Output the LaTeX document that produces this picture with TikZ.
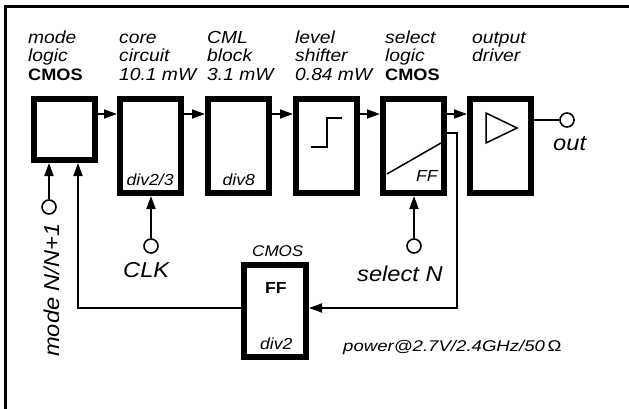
\documentclass[tikz,border=0pt]{standalone}
\usepackage{fontspec}
\setmainfont{Liberation Sans}
\newfontfamily\dfont[FakeStretch=1.1]{Liberation Sans}
\newfontfamily\pfont[FakeStretch=1.2]{Liberation Sans}
\usetikzlibrary{arrows.meta}
\begin{document}
\begin{tikzpicture}[x=1pt,y=-1pt,
  blk/.style={draw, line width=6pt, minimum width=61pt, minimum height=94pt, inner sep=0pt},
  wire/.style={line width=1.8pt},
  thin/.style={line width=1.5pt},
  arr/.style={wire, -{Triangle[length=13pt,width=9pt]}},
  term/.style={circle, draw, line width=1.6pt, minimum size=14pt, inner sep=0pt, fill=white},
  hd/.style={anchor=base west, inner sep=0pt, font=\dfont\itshape\fontsize{17.5}{18}\selectfont},
  hdb/.style={anchor=base west, inner sep=0pt, font=\dfont\bfseries\fontsize{16.5}{18}\selectfont},
  lbl/.style={anchor=base west, inner sep=0pt, font=\dfont\itshape\fontsize{21.5}{24}\selectfont},
  sm/.style={anchor=base west, inner sep=0pt, font=\dfont\itshape\fontsize{16}{18}\selectfont},
]
\useasboundingbox (0,0) rectangle (629,409);
\fill[white] (0,0) rectangle (629,409);
% frame
\draw[line width=3pt] (5.5,409) -- (5.5,6.5) -- (629,6.5);

% blocks
\node[blk, minimum height=61pt] (b1) at (64,129.5) {};
\node[blk] (b2) at (150.5,146) {};
\node[blk] (b3) at (238.5,146) {};
\node[blk] (b4) at (326.5,146) {};
\node[blk] (b5) at (413.5,146) {};
\node[blk] (b6) at (500.5,146) {};
\node[blk, minimum width=62pt, minimum height=92pt] (d) at (275,311) {};

% forward arrows
\draw[arr] (b1.east |- 0,114) -- (b2.west |- 0,114);
\draw[arr] (b2.east |- 0,114) -- (b3.west |- 0,114);
\draw[arr] (b3.east |- 0,114) -- (b4.west |- 0,114);
\draw[arr] (b4.east |- 0,114) -- (b5.west |- 0,114);
\draw[arr] (b5.east |- 0,114) -- (b6.west |- 0,114);

% symbols in blocks
\draw[thin] (311,147) -- (327,147) -- (327,118) -- (342,118);
\draw[thin] (387,174) -- (441,143);
\draw[thin] (486,113) -- (486,143) -- (517,128) -- cycle;

% terminals
\node[term] (m) at (49,207) {};
\draw[arr] (m) -- (m |- b1.south);
\node[term] (c) at (151,246) {};
\draw[arr] (c) -- (c |- b2.south);
\node[term] (s) at (414,246) {};
\draw[arr] (s) -- (s |- b5.south);
\node[term] (o) at (567,120) {};
\draw[wire] (b6.east |- o) -- (o);

% feedback
\coordinate (f1) at (457,133);
\coordinate (f2) at (457,308);
\coordinate (f3) at (78,308);
\draw[arr] (b5.east |- f1) -- (f1) -- (f2) -- (d.east |- f2);
\draw[arr] (d.west |- f3) -- (f3) -- (f3 |- b1.south);

% headers
\node[hd] (h1a) at (28,44) {mode};
\node[hd] (h1b) at (28,62) {logic};
\node[hdb] (h1c) at (28,80.5) {CMOS};
\node[hd] (h2a) at (119,44) {core};
\node[hd] (h2b) at (119,62) {circuit};
\node[hd] (h2c) at (119,80.5) {10.1 mW};
\node[hd] (h3a) at (207,44) {CML};
\node[hd] (h3b) at (207,62) {block};
\node[hd] (h3c) at (207,80.5) {3.1 mW};
\node[hd] (h4a) at (295,44) {level};
\node[hd] (h4b) at (295,62) {shifter};
\node[hd] (h4c) at (295,80.5) {0.84 mW};
\node[hd] (h5a) at (385,44) {select};
\node[hd] (h5b) at (385,62) {logic};
\node[hdb] (h5c) at (385,80.5) {CMOS};
\node[hd] (h6a) at (472,44) {output};
\node[hd] (h6b) at (472,62) {driver};

% labels
\node[sm] (t2) at (126.5,185) {div2/3};
\node[sm] (t3) at (222.5,185) {div8};
\node[sm] (t5) at (416,181) {FF};
\node[lbl] (tout) at (553,150) {out};
\node[lbl] (tclk) at (123,277) {CLK};
\node[lbl] (tsel) at (357,281) {select N};
\node[lbl, rotate=90] (tmode) at (59,357) {mode N/N+1};
\node[sm, font=\dfont\itshape\fontsize{15.5}{18}\selectfont] (tcm) at (252,256) {CMOS};
\node[anchor=base west, inner sep=0pt, font=\dfont\bfseries\fontsize{16}{18}\selectfont] (tff) at (265,293) {FF};
\node[sm] (td2) at (260,349) {div2};
\node[anchor=base west, inner sep=0pt, font=\pfont\itshape\fontsize{15.5}{18}\selectfont] (tpw) at (343,351) {power@2.7V/2.4GHz/50\,{\upshape Ω}};
\end{tikzpicture}
\end{document}
